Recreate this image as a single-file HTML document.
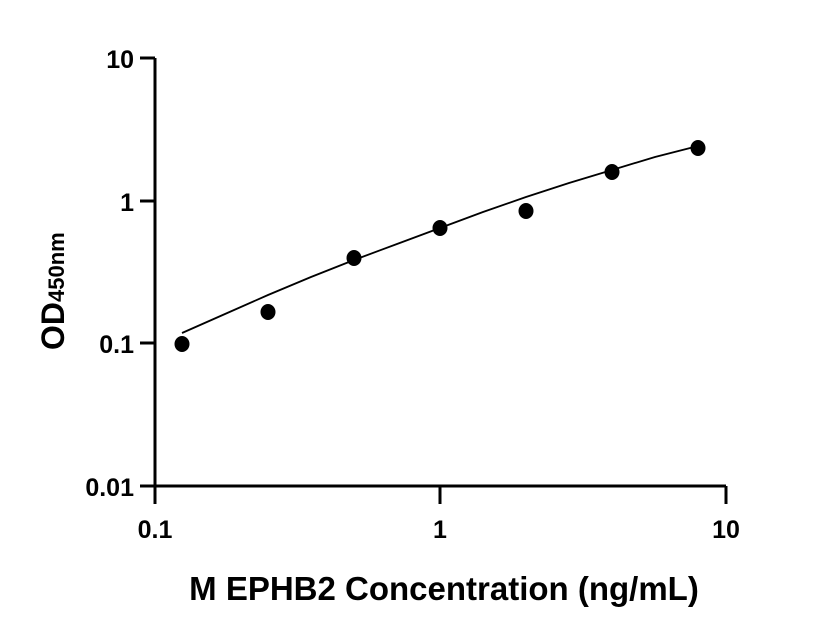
<!DOCTYPE html>
<html><head><style>body{margin:0;background:#fff}svg{display:block}</style></head><body>
<svg width="816" height="640" viewBox="0 0 816 640" xmlns="http://www.w3.org/2000/svg" font-family="Liberation Sans, sans-serif" font-weight="bold">
<g stroke="#000" stroke-width="3" fill="none">
<path d="M155 58V486H726"/>
<path d="M140 58H155M140 201H155M140 343H155M140 486H155"/>
<path d="M155 486V504M440 486V504M726 486V504"/>
</g>
<g font-size="25" text-anchor="end">
<text x="134" y="68">10</text>
<text x="134" y="211">1</text>
<text x="134" y="353">0.1</text>
<text x="134" y="496">0.01</text>
</g>
<g font-size="25" text-anchor="middle">
<text x="155" y="538">0.1</text>
<text x="440" y="538">1</text>
<text x="726" y="538">10</text>
</g>
<text x="444" y="600" font-size="33" text-anchor="middle">M EPHB2 Concentration (ng/mL)</text>
<text transform="translate(64 350) rotate(-90)" font-size="32">OD<tspan font-size="22">450nm</tspan></text>
<polyline fill="none" stroke="#000" stroke-width="1.8" points="182,333 225,314 268,295 311,277 354,260 397,244 440,228 483,212 526,197 569,183 612,170 655,157 698,146"/>
<g fill="#000">
<ellipse cx="182" cy="344" rx="7.5" ry="8"/>
<ellipse cx="268" cy="312" rx="7.5" ry="8"/>
<ellipse cx="354" cy="258" rx="7.5" ry="8"/>
<ellipse cx="440" cy="228" rx="7.5" ry="8"/>
<ellipse cx="526" cy="211" rx="7.5" ry="8"/>
<ellipse cx="612" cy="172" rx="7.5" ry="8"/>
<ellipse cx="698" cy="148" rx="7.5" ry="8"/>
</g>
</svg>
</body></html>
